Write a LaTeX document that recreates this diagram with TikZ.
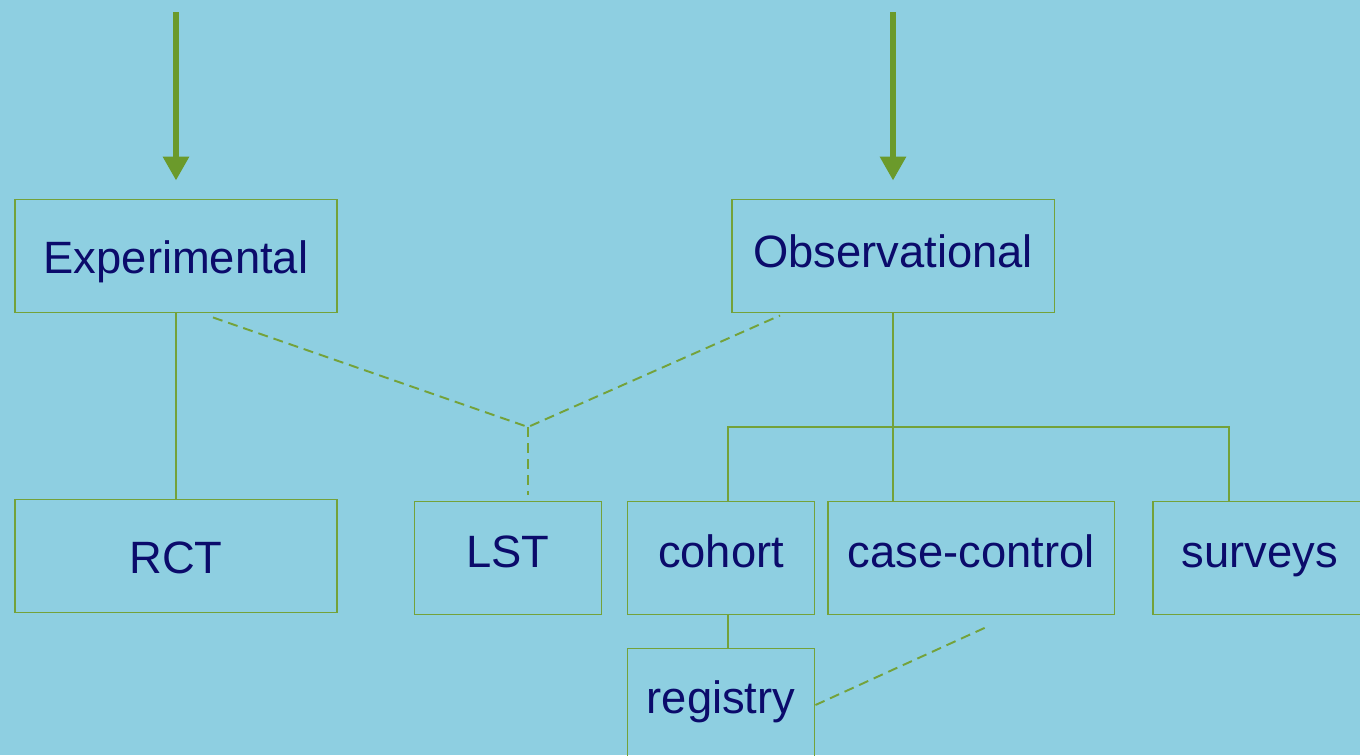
\documentclass[tikz,border=0pt]{standalone}
\usepackage{fontspec}
\setmainfont{Liberation Sans}
\usetikzlibrary{arrows.meta,positioning}
\definecolor{bgblue}{HTML}{8ECFE1}
\definecolor{leaf}{HTML}{74A23A}
\definecolor{arrowgreen}{HTML}{6B9A2B}
\definecolor{inkblue}{HTML}{0B0B6B}
\begin{document}
\begin{tikzpicture}
		[x=0.02cm, y=-0.02cm,
		block/.style ={rectangle, draw=leaf, line width=1.1pt, text=inkblue, font=\fontsize{25.8}{30}\selectfont, minimum height=2.26cm, inner sep=0pt, text height=0.8cm, text depth=#1},
		block/.default=0.44cm,
		line/.style ={draw=leaf, line width=1.1pt},
		dashline/.style ={line, dash pattern=on 0.2cm off 0.12cm},
		down/.style ={draw=arrowgreen, line width=3.4pt, -{Triangle[length=0.48cm,width=0.5cm]}},
		]

		\fill[bgblue] (0,0) rectangle (1360,755);
		\useasboundingbox (0,0) rectangle (1360,755);

		\draw (176,256) node[block=0.12cm, minimum width=6.44cm] (EX) {Experimental};
		\draw (893,256) node[block=0.36cm, minimum width=6.46cm] (OB) {Observational};
		\draw (176,556) node[block=0.12cm, minimum width=6.44cm] (RCT) {RCT};
		\draw (508,558) node[block, minimum width=3.74cm] (LST) {LST};
		\draw (721,558) node[block, minimum width=3.74cm] (CO) {cohort};
		\draw (971,558) node[block, minimum width=5.74cm] (CC) {case-control};
		\draw (1260,558) node[block, minimum width=4.28cm] (SV) {surveys};
		\draw (721,705) node[block=0.48cm, minimum width=3.74cm] (RG) {registry};

		\coordinate (EXin) at (176,12);
		\coordinate (OBin) at (893,12);
		\coordinate (obar) at (893,427);
		\coordinate (lstjoin) at (528,427);

		\draw[down] (EXin) -- ([yshift=0.36cm]EX.north);
		\draw[down] (OBin) -- ([yshift=0.36cm]OB.north);

		\draw[line] (EX.south) -- (RCT.north);
		\draw[line] (OB.south) -- (OB.south |- CC.north);
		\draw[line] ([xshift=0.14cm]CO.north) |- (obar) -| ([xshift=-0.62cm]SV.north);
		\draw[line] ([xshift=0.14cm]CO.south) -- ([xshift=0.14cm]RG.north);

		\draw[dashline] ([xshift=0.74cm,yshift=-0.08cm]EX.south) -- (lstjoin) -- ([xshift=-2.26cm,yshift=-0.04cm]OB.south);
		\draw[dashline, shorten >=0.12cm] (lstjoin) -- (lstjoin |- LST.north);
		\draw[dashline] (RG.east) -- ([xshift=0.38cm,yshift=-0.2cm]CC.south);
	\end{tikzpicture}
\end{document}
